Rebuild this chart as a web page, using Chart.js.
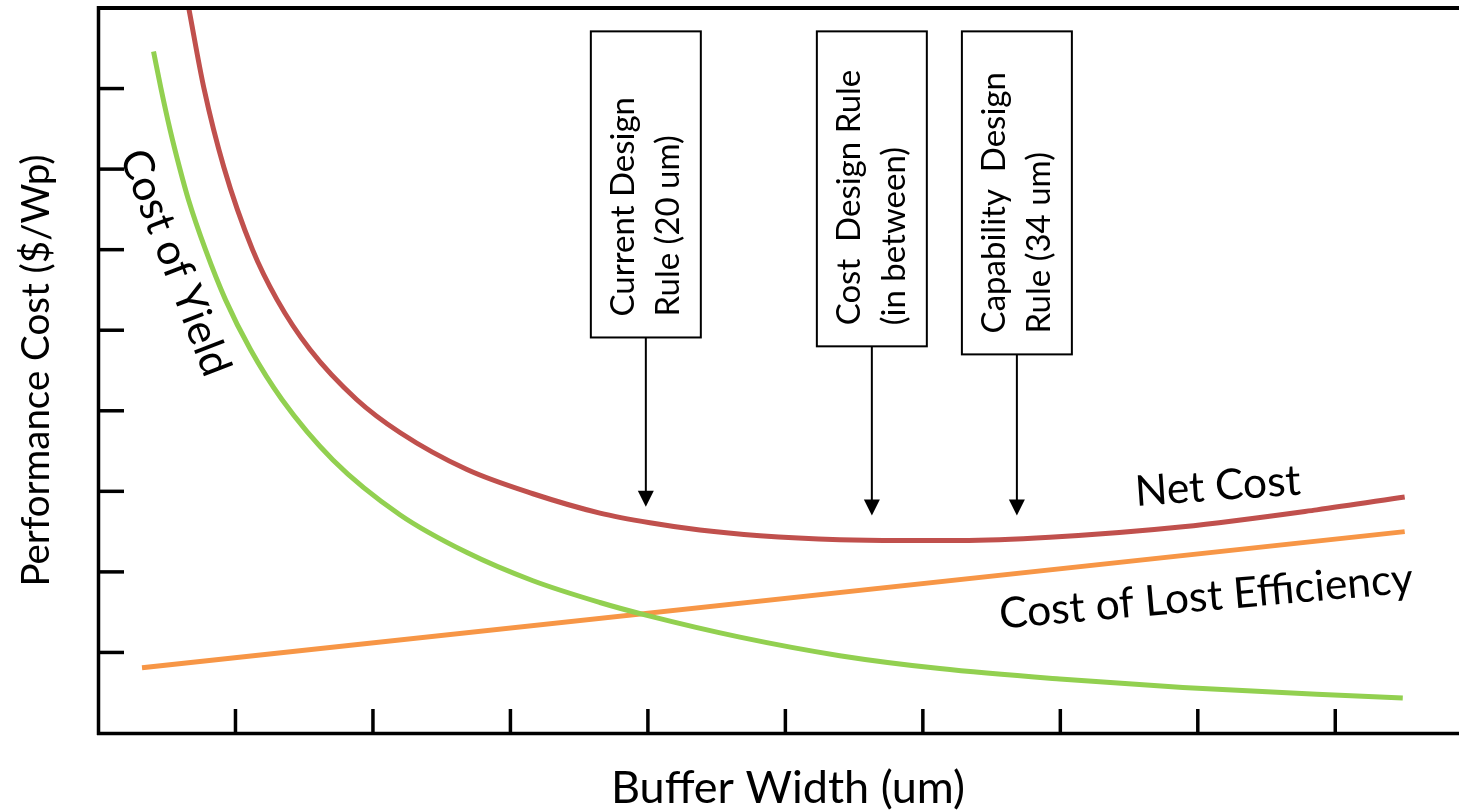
<!DOCTYPE html>
<html>
<head>
<meta charset="utf-8">
<script src="https://cdn.jsdelivr.net/npm/chart.js@4.4.1/dist/chart.umd.min.js"></script>
<style>
  html, body { margin: 0; padding: 0; background: #fff; }
  canvas { display: block; }
</style>
</head>
<body>
<canvas id="chart" width="1459" height="812"></canvas>
<script>
// Values (x = buffer width, y = cost, arbitrary units)
const yieldBuffer = [0.404, 0.458, 0.524, 0.593, 0.658, 0.782, 0.927, 1.109, 1.338, 1.709, 2.196, 2.684, 3.164, 3.651, 3.993, 4.669, 5.396, 6.124, 6.996, 7.891, 8.865, 9.491];
const yieldCost   = [8.46, 8.00, 7.49, 7.02, 6.62, 6.00, 5.38, 4.76, 4.14, 3.39, 2.71, 2.24, 1.89, 1.62, 1.46, 1.19, 0.96, 0.80, 0.67, 0.565, 0.48, 0.435];

const netBuffer = [0.66, 0.771, 0.916, 1.124, 1.302, 1.542, 1.881, 2.196, 2.684, 3.164, 3.651, 4.015, 4.378, 4.815, 5.396, 5.833, 6.269, 6.924, 7.891, 8.865, 9.505];
const netCost   = [9.00, 8.00, 7.02, 6.00, 5.38, 4.76, 4.14, 3.73, 3.27, 2.97, 2.73, 2.61, 2.52, 2.45, 2.40, 2.39, 2.39, 2.43, 2.56, 2.77, 2.93];

const lostBuffer = [0.32, 9.505];
const lostCost   = [0.81, 2.50];

const xTicks = [1, 2, 3, 4, 5, 6, 7, 8, 9];
const yTicks = [1, 2, 3, 4, 5, 6, 7, 8];

const FONT = 'Lato, "Open Sans", sans-serif';

// Design rule call-outs (box corners and arrow tip in data units)
const rules = [
    { lines: ['Current Design', 'Rule (20 um)'], left: 3.585, right: 4.385, top: 8.71, bottom: 4.91, tip: 2.81 },
    { lines: ['Cost  Design Rule', '(in between)'], left: 5.229, right: 6.029, top: 8.71, bottom: 4.80, tip: 2.70 },
    { lines: ['Capability  Design', 'Rule (34 um)'], left: 6.284, right: 7.084, top: 8.71, bottom: 4.70, tip: 2.70 }
];

// Curve labels (centre in data units, angle in degrees)
const curveLabels = [
    { text: 'Cost of Yield', x: 0.56, y: 5.84, angle: 69 },
    { text: 'Net Cost', x: 8.145, y: 3.06, angle: -4 },
    { text: 'Cost of Lost Efficiency', x: 8.06, y: 1.69, angle: -5 }
];

function toPoints(xs, ys) {
    return xs.map((x, i) => ({ x: x, y: ys[i] }));
}

// Axes, ticks and titles drawn by hand so the ticks can point inwards
const axesPlugin = {
    id: 'axes',
    afterDatasetsDraw(chart) {
        const ctx = chart.ctx;
        const xs = chart.scales.x;
        const ys = chart.scales.y;
        const area = chart.chartArea;
        const x0 = xs.getPixelForValue(0);
        const y0 = ys.getPixelForValue(0);
        const yTop = ys.getPixelForValue(9);

        ctx.save();
        ctx.strokeStyle = '#000';
        ctx.lineCap = 'butt';

        // frame: left, bottom, top
        ctx.lineWidth = 3.5;
        ctx.beginPath();
        ctx.moveTo(x0 + 0.5, yTop - 2);
        ctx.lineTo(x0 + 0.5, y0 + 2);
        ctx.stroke();
        ctx.beginPath();
        ctx.moveTo(x0 - 1, y0 + 0.5);
        ctx.lineTo(area.right, y0 + 0.5);
        ctx.stroke();
        ctx.lineWidth = 4;
        ctx.beginPath();
        ctx.moveTo(x0 - 1, yTop);
        ctx.lineTo(area.right, yTop);
        ctx.stroke();

        // inward ticks
        ctx.lineWidth = 3.5;
        yTicks.forEach(v => {
            const py = ys.getPixelForValue(v);
            ctx.beginPath();
            ctx.moveTo(x0, py);
            ctx.lineTo(x0 + 26, py);
            ctx.stroke();
        });
        xTicks.forEach(v => {
            const px = xs.getPixelForValue(v);
            ctx.beginPath();
            ctx.moveTo(px, y0);
            ctx.lineTo(px, y0 - 24);
            ctx.stroke();
        });

        // axis titles
        ctx.fillStyle = '#000';
        ctx.textAlign = 'center';
        ctx.textBaseline = 'middle';
        ctx.font = '45px ' + FONT;
        ctx.fillText('Buffer Width (um)', 788, 788);
        ctx.save();
        ctx.font = '38.5px ' + FONT;
        ctx.translate(37, (area.top + area.bottom) / 2);
        ctx.rotate(-Math.PI / 2);
        ctx.fillText('Performance Cost ($/Wp)', 0, 0);
        ctx.restore();

        // curve labels
        ctx.font = '42.5px ' + FONT;
        curveLabels.forEach(l => {
            ctx.save();
            ctx.translate(xs.getPixelForValue(l.x), ys.getPixelForValue(l.y));
            ctx.rotate(l.angle * Math.PI / 180);
            ctx.fillText(l.text, 0, 0);
            ctx.restore();
        });

        // design rule boxes with arrows
        rules.forEach(r => {
            const left = xs.getPixelForValue(r.left);
            const right = xs.getPixelForValue(r.right);
            const top = ys.getPixelForValue(r.top);
            const bottom = ys.getPixelForValue(r.bottom);
            const cx = (left + right) / 2;
            const tip = ys.getPixelForValue(r.tip);

            ctx.fillStyle = '#fff';
            ctx.fillRect(left, top, right - left, bottom - top);
            ctx.lineWidth = 2;
            ctx.strokeStyle = '#000';
            ctx.strokeRect(left, top, right - left, bottom - top);

            ctx.beginPath();
            ctx.moveTo(cx, bottom);
            ctx.lineTo(cx, tip - 14);
            ctx.stroke();
            ctx.fillStyle = '#000';
            ctx.beginPath();
            ctx.moveTo(cx - 8, tip - 16);
            ctx.lineTo(cx + 8, tip - 16);
            ctx.lineTo(cx, tip);
            ctx.closePath();
            ctx.fill();

            ctx.save();
            ctx.translate(cx, bottom - 21);
            ctx.rotate(-Math.PI / 2);
            ctx.font = '33px ' + FONT;
            ctx.textAlign = 'left';
            ctx.textBaseline = 'middle';
            ctx.fillText(r.lines[0], 0, -22.5);
            ctx.fillText(r.lines[1], 0, 22.5);
            ctx.restore();
        });
        ctx.restore();
    }
};

const chart = new Chart(document.getElementById('chart'), {
    type: 'line',
    data: {
        datasets: [
            {
                label: 'Cost of Yield',
                data: toPoints(yieldBuffer, yieldCost),
                borderColor: '#92D050',
                borderWidth: 5,
                cubicInterpolationMode: 'monotone'
            },
            {
                label: 'Net Cost',
                data: toPoints(netBuffer, netCost),
                borderColor: '#C0504D',
                borderWidth: 5,
                cubicInterpolationMode: 'monotone'
            },
            {
                label: 'Cost of Lost Efficiency',
                data: toPoints(lostBuffer, lostCost),
                borderColor: '#F79646',
                borderWidth: 5
            }
        ]
    },
    options: {
        responsive: false,
        animation: false,
        devicePixelRatio: 1,
        layout: {
            padding: { left: 98, right: 0, top: 8, bottom: 79 }
        },
        elements: {
            point: { radius: 0, hoverRadius: 0 },
            line: { fill: false, borderCapStyle: 'butt' }
        },
        scales: {
            x: { type: 'linear', min: 0, max: 9.9, display: false },
            y: { type: 'linear', min: 0, max: 9, display: false }
        },
        plugins: {
            legend: { display: false },
            tooltip: { enabled: false }
        }
    },
    plugins: [axesPlugin]
});
</script>
</body>
</html>
